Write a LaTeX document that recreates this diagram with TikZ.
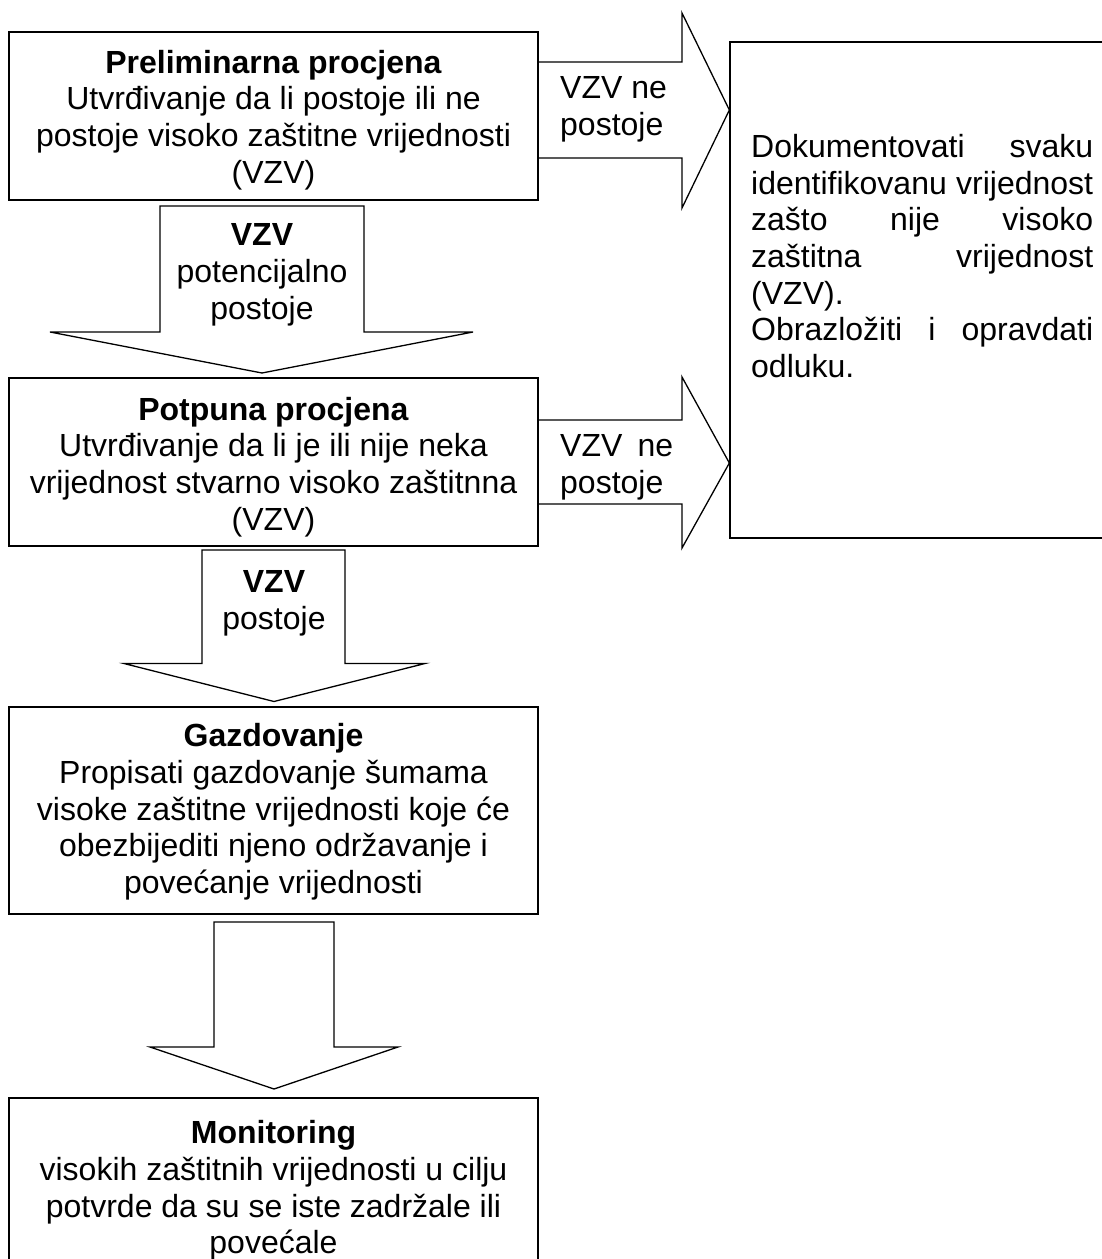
\documentclass[tikz,border=0pt]{standalone}
\usepackage{fontspec}
\setmainfont{Liberation Sans}
\begin{document}
\begin{tikzpicture}[x=1pt,y=-1pt,
  box/.style={draw, line width=1.7pt, inner sep=0pt},
  rbox/.style={draw, line width=1.3pt, inner sep=0pt},
  blk/.style={draw, line width=1.3pt, line join=miter},
  txt/.style={inner sep=0pt, align=center, font=\fontsize{32}{36.7}\selectfont},
  ltxt/.style={inner sep=0pt, align=left, font=\fontsize{32}{36.7}\selectfont},
]
\useasboundingbox (0,0) rectangle (1102,1259);
\fill[white] (0,0) rectangle (1102,1259);
\clip (0,0) rectangle (1102,1259);

% boxes
\node[box, minimum width=529pt, minimum height=168pt] (b1) at (273.5,116) {};
\node[box, minimum width=529pt, minimum height=168pt] (b2) at (273.5,462) {};
\node[box, minimum width=529pt, minimum height=207pt] (b3) at (273.5,810.5) {};
\node[box, minimum width=529pt, minimum height=184pt] (b4) at (273.5,1190) {};
\node[rbox, minimum width=390pt, minimum height=496pt] (rb) at (925,290) {};

% box texts
\node[txt] (t1) at (273.5,120) {\textbf{Preliminarna procjena}\\Utvrđivanje da li postoje ili ne\\postoje visoko zaštitne vrijednosti\\(VZV)};
\node[txt] (t2) at (273.5,467) {\textbf{Potpuna procjena}\\Utvrđivanje da li je ili nije neka\\vrijednost stvarno visoko zaštitnna\\(VZV)};
\node[txt] (t3) at (273.5,812) {\textbf{Gazdovanje}\\Propisati gazdovanje šumama\\visoke zaštitne vrijednosti koje će\\obezbijediti njeno održavanje i\\povećanje vrijednosti};
\node[txt] (t4) at (273.5,1190.6) {\textbf{Monitoring}\\visokih zaštitnih vrijednosti u cilju\\potvrde da su se iste zadržale ili\\povećale};
\node[ltxt, anchor=north west] (rbt) at (751,134) {%
\hbox to 342pt{Dokumentovati\hfill svaku}\\
\hbox to 342pt{identifikovanu\hfill vrijednost}\\
\hbox to 342pt{zašto\hfill nije\hfill visoko}\\
\hbox to 342pt{zaštitna\hfill vrijednost}\\
(VZV).\\
\hbox to 342pt{Obrazložiti\hfill i\hfill opravdati}\\
odluku.};

% block arrows down
\draw[blk] (160,206) -- (364,206) -- (364,332) -- (473,332) -- (262,373)
  -- (50,332) -- (160,332) -- cycle;
\draw[blk] (202,550) -- (345,550) -- (345,663.5) -- (425,663.5) -- (274,701.5)
  -- (124,663.5) -- (202,663.5) -- cycle;
\draw[blk] (214,922) -- (334,922) -- (334,1047) -- (398,1047) -- (274,1089)
  -- (150,1047) -- (214,1047) -- cycle;

% block arrows right
\draw[blk] (b1.east |- 0,62) -- (682,62) -- (682,13) -- (rb.west |- 0,110)
  -- (682,208) -- (682,158) -- (b1.east |- 0,158);
\draw[blk] (b2.east |- 0,420) -- (682,420) -- (682,377) -- (rb.west |- 0,463)
  -- (682,548) -- (682,504) -- (b2.east |- 0,504);

% arrow labels
\node[txt] (l1) at (262,275) {\textbf{VZV}\\potencijalno\\postoje};
\node[txt] (l2) at (274,603) {\textbf{VZV}\\postoje};
\node[ltxt, anchor=west] (l3) at (560,109) {VZV ne\\postoje};
\node[ltxt, anchor=west] (l4) at (560,467) {\hbox to 113pt{VZV\hfill ne}\\postoje};
\end{tikzpicture}
\end{document}
